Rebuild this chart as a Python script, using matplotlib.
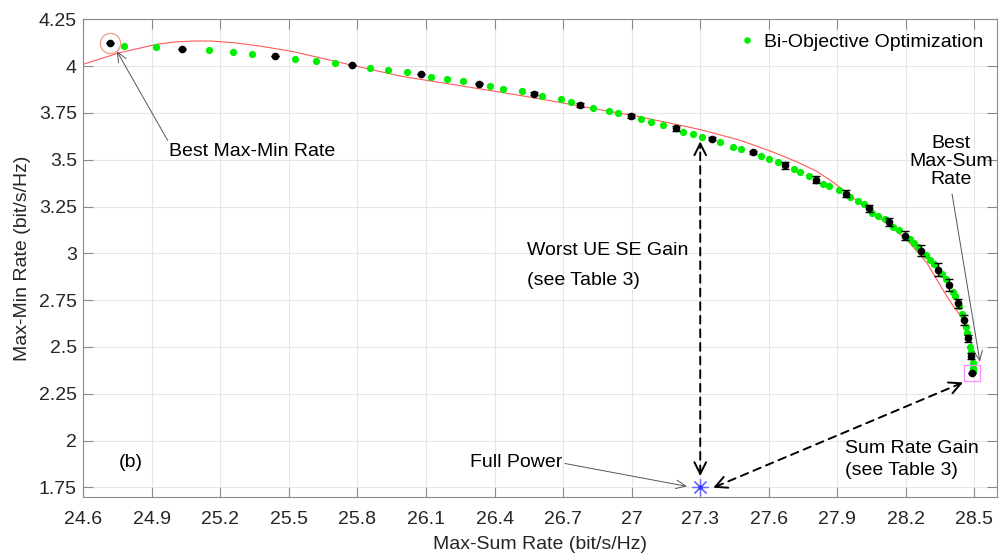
import matplotlib.pyplot as plt
import numpy as np

plt.rcParams["font.family"] = ["Liberation Sans", "DejaVu Sans"]
plt.rcParams["font.size"] = 14

# red trade-off curve
curve_x = [24.6, 24.76, 24.92, 25.0, 25.08, 25.16, 25.26, 25.375, 25.52, 25.776, 25.987,
           26.2, 26.425, 26.6, 26.775, 27.008, 27.15, 27.3, 27.475, 27.62, 27.72, 27.81,
           27.885, 27.957, 28.059, 28.205, 28.292, 28.38, 28.409, 28.453, 28.475, 28.489,
           28.495]
curve_y = [4.01, 4.072, 4.116, 4.129, 4.134, 4.134, 4.125, 4.107, 4.077, 4.005, 3.947,
           3.905, 3.861, 3.825, 3.786, 3.736, 3.70, 3.661, 3.604, 3.54, 3.49, 3.438,
           3.377, 3.307, 3.215, 3.072, 2.948, 2.769, 2.715, 2.644, 2.573, 2.501,
           2.37]

# bi-objective optimization points (green)
bo_x = [24.78, 24.92, 25.15, 25.256, 25.34, 25.525, 25.62, 25.70, 25.856, 25.933, 26.017,
        26.121, 26.193, 26.262, 26.378, 26.437, 26.521, 26.607, 26.689, 26.734, 26.83,
        26.90, 26.938, 27.043, 27.084, 27.137, 27.223, 27.268, 27.308, 27.388, 27.443,
        27.478, 27.567, 27.599, 27.64, 27.709, 27.735, 27.774, 27.837, 27.865, 27.909,
        27.957, 27.989, 28.018, 28.052, 28.078, 28.107, 28.145, 28.171, 28.218, 28.237,
        28.254, 28.288, 28.304, 28.323, 28.356, 28.374, 28.405, 28.415, 28.432, 28.446,
        28.462, 28.468, 28.481, 28.485, 28.492, 28.494, 28.494]
bo_y = [4.11, 4.104, 4.084, 4.075, 4.063, 4.04, 4.027, 4.016, 3.991, 3.979, 3.968,
        3.943, 3.929, 3.918, 3.895, 3.877, 3.866, 3.838, 3.822, 3.809, 3.775,
        3.761, 3.748, 3.718, 3.702, 3.688, 3.65, 3.64, 3.622, 3.595, 3.57,
        3.558, 3.518, 3.504, 3.49, 3.451, 3.433, 3.411, 3.372, 3.358, 3.336,
        3.301, 3.281, 3.261, 3.218, 3.202, 3.185, 3.143, 3.126, 3.076, 3.055,
        3.036, 2.992, 2.965, 2.942, 2.89, 2.862, 2.795, 2.77, 2.72, 2.675,
        2.605, 2.575, 2.501, 2.475, 2.412, 2.39, 2.37]

# black points with error bars
pt_x = [24.715, 25.03, 25.44, 25.777, 26.079, 26.333, 26.574, 26.775, 26.996, 27.195,
        27.353, 27.529, 27.669, 27.808, 27.938, 28.04, 28.125, 28.197, 28.267, 28.34,
        28.389, 28.426, 28.454, 28.474, 28.487, 28.491]
pt_y = [4.125, 4.093, 4.052, 4.004, 3.956, 3.907, 3.852, 3.791, 3.734, 3.668,
        3.611, 3.54, 3.47, 3.393, 3.319, 3.24, 3.167, 3.095, 3.015, 2.912,
        2.831, 2.733, 2.644, 2.546, 2.451, 2.359]
pt_err = [0, 0, 0, 0, 0, 0.005, 0.008, 0.01, 0.012, 0.012,
          0.008, 0.008, 0.02, 0.02, 0.02, 0.02, 0.02, 0.025, 0.03, 0.035,
          0.03, 0.025, 0.025, 0.02, 0.015, 0]

full_power = (27.3, 1.75)
x_ticks = [24.6, 24.9, 25.2, 25.5, 25.8, 26.1, 26.4, 26.7, 27.0, 27.3, 27.6, 27.9, 28.2, 28.5]
x_labels = ["24.6", "24.9", "25.2", "25.5", "25.8", "26.1", "26.4", "26.7", "27", "27.3",
            "27.6", "27.9", "28.2", "28.5"]
y_ticks = [1.75, 2.0, 2.25, 2.5, 2.75, 3.0, 3.25, 3.5, 3.75, 4.0, 4.25]
y_labels = ["1.75", "2", "2.25", "2.5", "2.75", "3", "3.25", "3.5", "3.75", "4", "4.25"]

fig = plt.figure(figsize=(10.03, 5.57), dpi=100)
ax = fig.add_axes([0.083, 0.1083, 0.9113, 0.857])

ax.plot(curve_x, curve_y, color="#ff5a5a", linewidth=0.8, zorder=2)
ax.plot(bo_x, bo_y, linestyle="none", marker="o", markersize=5.2, color="#00ee00",
        markeredgewidth=0, label="Bi-Objective Optimization", zorder=3)
ax.errorbar(pt_x, pt_y, yerr=pt_err, fmt="o", markersize=4.5, color="black",
            ecolor="black", elinewidth=1.0, capsize=3, capthick=1.0, zorder=4)

# markers for the extreme points
ax.plot(pt_x[0], pt_y[0], marker="o", markersize=14.5, markerfacecolor="none",
        markeredgecolor="#f49a86", markeredgewidth=0.9, zorder=5)
ax.plot(pt_x[-1], pt_y[-1], marker="s", markersize=12, markerfacecolor="none",
        markeredgecolor="#ff8cff", markeredgewidth=0.9, zorder=5)
ax.plot(*full_power, marker=(8, 2, 0), markersize=12, color="#6b6bff",
        markeredgewidth=0.9, zorder=5)
ax.plot(*full_power, marker="o", markersize=2, color="#3030ff", zorder=6)

thin = dict(arrowstyle="->,head_length=0.5,head_width=0.22", color="#555555", lw=0.7)
ax.annotate("Best Max-Min Rate", xy=(24.747, 4.08), xytext=(25.34, 3.543),
            ha="center", va="center",
            arrowprops=dict(thin, relpos=(0.0, 1.0), shrinkA=0, shrinkB=0))
ax.annotate("Best\nMax-Sum\nRate", xy=(28.524, 2.421), xytext=(28.398, 3.49),
            ha="center", va="center", linespacing=1.1,
            arrowprops=dict(thin, relpos=(0.5, 0.0), shrinkA=2, shrinkB=0))
ax.annotate("Full Power", xy=(27.242, 1.755), xytext=(26.696, 1.88),
            ha="right", va="center",
            arrowprops=dict(thin, relpos=(1.0, 0.5), shrinkA=0, shrinkB=0))


def dashed_double_arrow(p0, p1):
    ax.annotate("", xy=p1, xytext=p0,
                arrowprops=dict(arrowstyle="-", color="black", lw=1.4,
                                linestyle=(0, (4, 3)), shrinkA=2, shrinkB=2))
    for tip, tail in ((p0, p1), (p1, p0)):
        near = (tip[0] + 0.02 * (tail[0] - tip[0]), tip[1] + 0.02 * (tail[1] - tip[1]))
        ax.annotate("", xy=tip, xytext=near,
                    arrowprops=dict(arrowstyle="->,head_length=0.6,head_width=0.3",
                                    color="black", lw=1.4, shrinkA=0, shrinkB=0))


dashed_double_arrow((27.30, 1.81), (27.30, 3.598))
dashed_double_arrow((27.357, 1.748), (28.45, 2.31))

ax.text(26.543, 2.935, "Worst UE SE Gain\n(see Table 3)", ha="left", va="center",
        linespacing=1.95)
ax.text(27.935, 1.90, "Sum Rate Gain\n(see Table 3)", ha="left", va="center",
        linespacing=1.35)
ax.text(24.806, 1.884, "(b)", ha="center", va="center")

ax.set_xlim(24.6, 28.6)
ax.set_ylim(1.7, 4.25)
ax.set_xticks(x_ticks)
ax.set_xticklabels(x_labels)
ax.set_yticks(y_ticks)
ax.set_yticklabels(y_labels)
ax.grid(True, color="#e6e6e6", linewidth=0.8)
ax.set_axisbelow(True)
for sp in ax.spines.values():
    sp.set_color("#8a8a8a")
    sp.set_linewidth(0.8)
ax.tick_params(axis="both", direction="in", length=7, width=0.8, color="#8a8a8a",
               labelcolor="#262626", top=True, right=True)
ax.tick_params(axis="x", pad=10)
ax.tick_params(axis="y", pad=4.5)
ax.set_xlabel("Max-Sum Rate (bit/s/Hz)", color="#262626", labelpad=6)
ax.set_ylabel("Max-Min Rate (bit/s/Hz)", color="#262626", labelpad=6)

ax.legend(loc="upper right", frameon=False, handletextpad=0.3, handlelength=1.2,
          borderaxespad=0.3, markerscale=0.9)

fig.savefig("out.png", dpi=100)
